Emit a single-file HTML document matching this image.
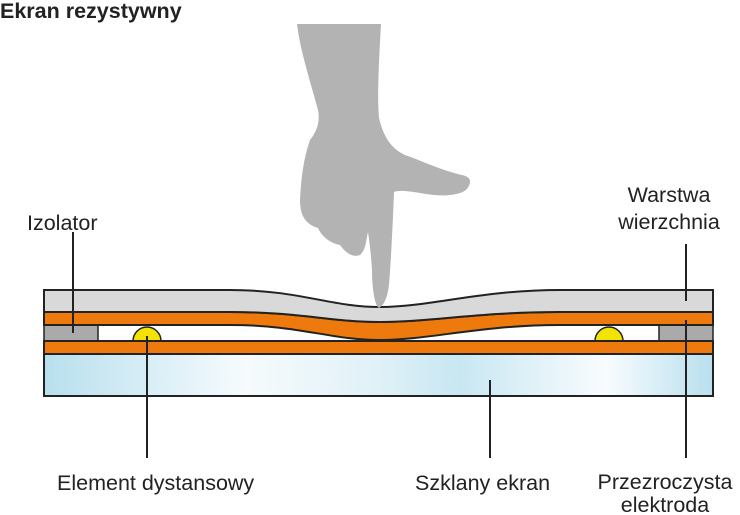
<!DOCTYPE html>
<html><head><meta charset="utf-8"><style>
html,body{margin:0;padding:0;background:#fff;}
svg{display:block;font-family:"Liberation Sans",Arial,sans-serif;}
</style></head><body>
<svg width="740" height="515" viewBox="0 0 740 515" xmlns="http://www.w3.org/2000/svg">
<defs>
<linearGradient id="g" x1="0" x2="1" y1="0" y2="0">
<stop offset="0" stop-color="#b8dfee"/>
<stop offset="0.3" stop-color="#f6fbfd"/>
<stop offset="0.5" stop-color="#e0f1f7"/>
<stop offset="0.62" stop-color="#c8e7f2"/>
<stop offset="0.84" stop-color="#f8fcfe"/>
<stop offset="1" stop-color="#b8dfee"/>
</linearGradient>
</defs>
<text x="0" y="18" font-size="21.5" font-weight="bold" fill="#222">Ekran rezystywny</text>

<rect x="44" y="354" width="669" height="42" fill="url(#g)" stroke="#222" stroke-width="2"/>
<rect x="44" y="325" width="669" height="16" fill="#fff"/>
<rect x="44" y="325" width="54" height="16" fill="#aaa" stroke="#222" stroke-width="1.5"/>
<rect x="659" y="325" width="54" height="16" fill="#aaa" stroke="#222" stroke-width="1.5"/>
<path d="M133,341 A14,14 0 0 1 161,341 Z" fill="#f2e400" stroke="#222" stroke-width="1.5"/>
<path d="M595,341 A14,14 0 0 1 623,341 Z" fill="#f2e400" stroke="#222" stroke-width="1.5"/>
<rect x="44" y="341" width="669" height="13" fill="#ee7a0e" stroke="#222" stroke-width="2"/>
<path d="M44,312 L230,312 C300,312 330,322 380,322 C430,322 480,312 560,312 L713,312 L713,325 L560,325 C480,325 430,340 380,340 C330,340 300,325 230,325 L44,325 Z" fill="#ee7a0e" stroke="#222" stroke-width="2"/>
<path d="M44,290 L230,290 C300,290 330,307 380,307 C430,307 480,290 560,290 L713,290 L713,312 L560,312 C480,312 430,322 380,322 C330,322 300,312 230,312 L44,312 Z" fill="#d9d9d9" stroke="#222" stroke-width="2"/>

<path d="M297,24 L381,24 C379,60 377,95 379,118 C383,135 390,148 405,155 C420,160 440,170 462,175 C472,177 472,183 466,190 C458,196 440,197 420,193 C408,191 398,190 394,192 C393,220 391,260 389,285 C387,300 383,306 379,308 C375,306 372,290 372,270 C371,255 370,245 368,232 C366,240 366,250 360,255 C352,258 345,252 340,245 C330,243 322,237 318,228 C305,224 300,215 300,200 C301,180 303,160 310,140 C318,130 320,120 318,110 C310,80 300,50 297,24 Z" fill="#b3b3b3"/>

<g stroke="#222" stroke-width="2">
<line x1="73" y1="232" x2="73" y2="333"/>
<line x1="147" y1="336" x2="147" y2="458"/>
<line x1="490" y1="380" x2="490" y2="458"/>
<line x1="686" y1="244" x2="686" y2="301"/>
<line x1="686" y1="320" x2="686" y2="458"/>
</g>

<g font-size="21.5" fill="#222">
<text x="27" y="230">Izolator</text>
<text x="669" y="202" text-anchor="middle">Warstwa</text>
<text x="669" y="229" text-anchor="middle">wierzchnia</text>
<text x="57" y="490">Element dystansowy</text>
<text x="415" y="490">Szklany ekran</text>
<text x="665" y="489" text-anchor="middle">Przezroczysta</text>
<text x="665" y="512" text-anchor="middle">elektroda</text>
</g>
</svg>
</body></html>
